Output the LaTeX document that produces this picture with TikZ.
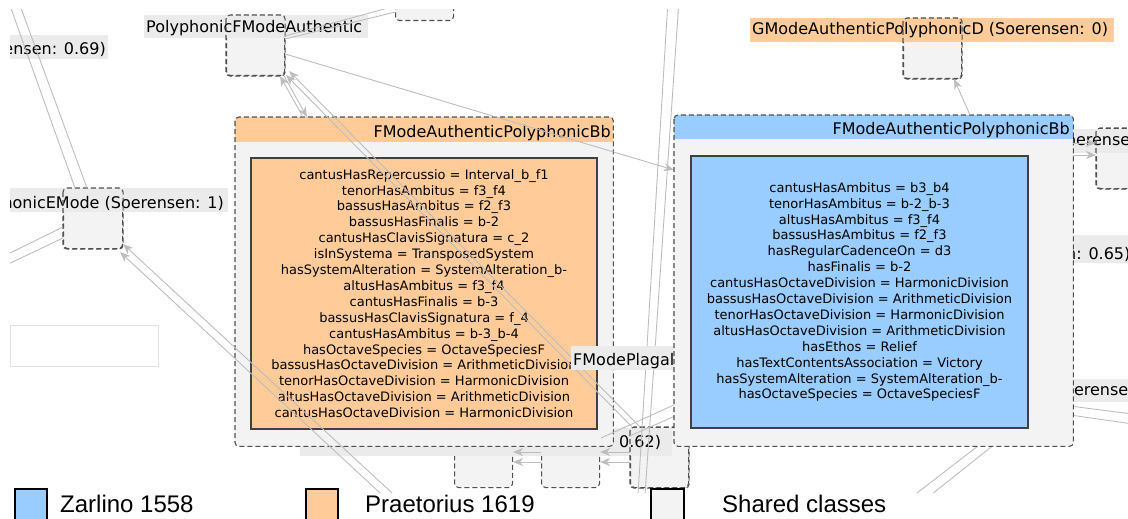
\documentclass[tikz,border=0pt]{standalone}
\usepackage{fontspec}
\setmainfont{DejaVu Sans}
\newfontfamily\legfont{Liberation Sans}
\usetikzlibrary{arrows.meta,calc}
\definecolor{porange}{HTML}{FFCC99}
\definecolor{zblue}{HTML}{99CCFF}
\definecolor{bodyg}{HTML}{F3F3F3}
\definecolor{lblg}{HTML}{EBEBEB}
\definecolor{dashc}{HTML}{505050}
\definecolor{edgec}{HTML}{BDBDBD}
\definecolor{innerc}{HTML}{404040}
\definecolor{rectc}{HTML}{E2E2E2}
\begin{document}
\begin{tikzpicture}[x=1pt,y=-1pt,
  cls/.style={draw=dashc, dash pattern=on 5pt off 3pt, line width=1.1pt, rounded corners=4pt, fill=bodyg, minimum width=58pt, minimum height=60pt, inner sep=0pt, anchor=north west},
  clsborder/.style={draw=dashc, dash pattern=on 5pt off 3pt, line width=1.1pt, rounded corners=4pt},
  lblbg/.style={fill=lblg, inner sep=0pt, anchor=north west},
  lbltxt/.style={inner sep=0pt, anchor=base west, font=\fontsize{16}{19}\selectfont},
  bigbox/.style={fill=bodyg, inner sep=0pt, anchor=north west},
  innerbox/.style={draw=innerc, line width=1.2pt, inner sep=0pt, align=center, font=\fontsize{13}{15.9}\selectfont},
  edge/.style={draw=edgec, line width=0.9pt},
  arr/.style={edge, -{Stealth[length=10pt,width=8pt,inset=3pt]}},
  legsq/.style={draw=black, line width=1.6pt, minimum width=32pt, minimum height=34pt, anchor=north west, inner sep=0pt},
  legtxt/.style={font=\legfont\fontsize{24}{28}\selectfont, anchor=base west, inner sep=0pt}
]
\useasboundingbox (0,0) rectangle (1128,519);
\clip (0,0) rectangle (1128,519);

\begin{scope}
\clip (10,10) rectangle (1128,492);
% ---------- small class nodes ----------
\node[cls] (b1) at (454,427) {};
\node[cls] (b2) at (541,427) {};
\node[cls] (b3) at (630,427) {};
\node[cls] (rnode) at (1096,128) {};
\node[cls] (topn) at (395,-40) {};
\node[cls] (gmd) at (903,18) {};
\node[cls] (pfa) at (226,15) {};
\node[cls, minimum width=59pt] (emode) at (63,188) {};
\node[draw=rectc, fill=white, line width=0.8pt, minimum width=148pt, minimum height=41pt, inner sep=0pt, anchor=north west] (emptyrect) at (10,325) {};

% ---------- labels ----------
\node[lblbg, minimum width=224pt, minimum height=23pt] (lpfabg) at (144,15) {};
\node[lbltxt] (lpfa) at (146,33) {PolyphonicFModeAuthentic};
\node[lblbg, minimum width=98pt, minimum height=24pt] (l069bg) at (10,35) {};
\node[lbltxt, anchor=base east] (l069) at (106,55) {ensen: 0.69)};
\node[lblbg, minimum width=218pt, minimum height=24pt] (lemodebg) at (10,188) {};
\node[lbltxt, anchor=base east] (lemode) at (224,208) {phonicEMode (Soerensen: 1)};
\node[lblbg, fill=porange, minimum width=364pt, minimum height=24pt] (lgmdbg) at (750,18) {};
\node[lbltxt] (lgmd) at (752,35) {GModeAuthenticPolyphonicD (Soerensen: 0)};
\node[lblbg, minimum width=372pt, minimum height=28pt] (l062bg) at (300,428) {};
\node[lbltxt] (l062) at (619,447) {0.62)};
\node[lblbg, minimum width=80pt, minimum height=24pt] (lrtopbg) at (1060,129) {};
\node[lbltxt] (lrtop) at (1066,146) {oerensen};
\node[lblbg, minimum width=80pt, minimum height=28pt] (l065bg) at (1060,235) {};
\node[lbltxt] (l065) at (1066,259) {n: 0.65)};
\node[lblbg, minimum width=80pt, minimum height=23pt] (lerensebg) at (1060,379) {};
\node[lbltxt] (lerense) at (1064,395) {oerensen};

% borders of nodes over their labels
\draw[clsborder] (pfa.north west) rectangle (pfa.south east);
\draw[clsborder] (emode.north west) rectangle (emode.south east);
\draw[clsborder] (gmd.north west) rectangle (gmd.south east);
\draw[clsborder] (rnode.north west) rectangle (rnode.south east);
\draw[clsborder] (b3.north west) rectangle (b3.south east);

% ---------- Praetorius box ----------
\node[bigbox, minimum width=378pt, minimum height=329pt] (pbox) at (235,117) {};
\begin{scope}
\clip[rounded corners=4pt] (pbox.north west) rectangle (pbox.south east);
\fill[porange] (pbox.north west) rectangle ($(pbox.north east)+(0,25)$);
\end{scope}
\draw[clsborder] (pbox.north west) rectangle (pbox.south east);
\node[lbltxt, anchor=base east] (ptitle) at (611,137) {FModeAuthenticPolyphonicBb};
\node[innerbox, fill=porange, minimum width=346pt, minimum height=271pt] (pinner) at (424,293.5) {%
cantusHasRepercussio = Interval\_b\_f1\\
tenorHasAmbitus = f3\_f4\\
bassusHasAmbitus = f2\_f3\\
bassusHasFinalis = b-2\\
cantusHasClavisSignatura = c\_2\\
isInSystema = TransposedSystem\\
hasSystemAlteration = SystemAlteration\_b-\\
altusHasAmbitus = f3\_f4\\
cantusHasFinalis = b-3\\
bassusHasClavisSignatura = f\_4\\
cantusHasAmbitus = b-3\_b-4\\
hasOctaveSpecies = OctaveSpeciesF\\
bassusHasOctaveDivision = ArithmeticDivision\\
tenorHasOctaveDivision = HarmonicDivision\\
altusHasOctaveDivision = ArithmeticDivision\\
cantusHasOctaveDivision = HarmonicDivision};

% ---------- edges ----------
\coordinate (e1s) at (8,0);
\coordinate (e2s) at (18,0);
\coordinate (e3s) at (0,258);
\coordinate (e4s) at (0,268);
\coordinate (e5s) at (405,505);
\coordinate (e6s) at (393,505);
\coordinate (v1s) at (668,0);
\coordinate (v1e) at (638,495);
\coordinate (v2s) at (679,0);
\coordinate (v2e) at (645,495);
\coordinate (f1s) at (720,384);
\coordinate (f2s) at (720,396);
\coordinate (g4s) at (1000,397);
\coordinate (g4e) at (1140,415);
\coordinate (g5s) at (1000,405);
\coordinate (g5e) at (1140,425);
\coordinate (g6s) at (1000,429);
\coordinate (g6e) at (895,510);
\coordinate (g7s) at (1010,432);
\coordinate (g7e) at (912,510);
\coordinate (zleft) at (674,170);

\draw[edge] (e1s) -- ($(emode.north west)+(12,0)$);
\draw[edge] (e2s) -- ($(emode.north west)+(24,0)$);
\draw[edge] (e3s) -- ($(emode.north west)+(0,39)$);
\draw[edge] (e4s) -- ($(emode.north west)+(0,50)$);
\draw[arr] (e5s) -- ($(emode.south east)+(0,-5)$);
\draw[arr] (e6s) -- ($(emode.south east)+(-3,3)$);
\draw[edge] ($(pfa.north east)+(0,21)$) -- ($(topn.south west)+(0,-15)$);
\draw[edge] ($(pfa.north east)+(0,24)$) -- ($(topn.south west)+(0,-9)$);
\draw[arr] ($(pfa.north east)+(0,39)$) -- (zleft);
\draw[arr] ($(pbox.north west)+(68,0)$) -- ($(pfa.south east)+(-5,0)$);
\draw[arr] ($(pfa.south east)+(-1,0)$) -- ($(pbox.north west)+(72,0)$);
\draw[arr] ($(b3.north west)+(2,0)$) -- ($(pfa.south east)+(1,-1)$);
\draw[arr] ($(b3.north west)+(10,0)$) -- ($(pfa.south east)+(4,-5)$);
\draw[arr] ($(b2.north west)+(0,25)$) -- ($(b1.north east)+(0,25)$);
\draw[arr] ($(b2.north west)+(0,35)$) -- ($(b1.north east)+(0,35)$);
\draw[arr] ($(b3.north west)+(0,25)$) -- ($(b2.north east)+(0,25)$);
\draw[arr] ($(b3.north west)+(0,35)$) -- ($(b2.north east)+(0,35)$);
\draw[edge] (f1s) -- ($(b2.north east)+(1,11)$);
\draw[edge] (f2s) -- ($(b3.north west)+(0,9)$);
\draw[edge] (v1s) -- (v1e);
\draw[edge] (v2s) -- (v2e);
\draw[edge] (g4s) -- (g4e);
\draw[edge] (g5s) -- (g5e);
\draw[edge] (g6s) -- (g6e);
\draw[edge] (g7s) -- (g7e);

% label over the Praetorius box
\node[lblbg, minimum width=120pt, minimum height=24pt] (lfmpbg) at (571,346) {};
\node[lbltxt] (lfmp) at (573,365) {FModePlagal};

% ---------- Zarlino box ----------
\node[bigbox, minimum width=399pt, minimum height=331pt] (zbox) at (674,115) {};
\begin{scope}
\clip[rounded corners=4pt] (zbox.north west) rectangle (zbox.south east);
\fill[zblue] (zbox.north west) rectangle ($(zbox.north east)+(0,24)$);
\end{scope}
\draw[clsborder] (zbox.north west) rectangle (zbox.south east);
\node[lbltxt, anchor=base east] (ztitle) at (1070,135) {FModeAuthenticPolyphonicBb};
\node[innerbox, fill=zblue, minimum width=337pt, minimum height=272pt] (zinner) at (859.5,292) {%
cantusHasAmbitus = b3\_b4\\
tenorHasAmbitus = b-2\_b-3\\
altusHasAmbitus = f3\_f4\\
bassusHasAmbitus = f2\_f3\\
hasRegularCadenceOn = d3\\
hasFinalis = b-2\\
cantusHasOctaveDivision = HarmonicDivision\\
bassusHasOctaveDivision = ArithmeticDivision\\
tenorHasOctaveDivision = HarmonicDivision\\
altusHasOctaveDivision = ArithmeticDivision\\
hasEthos = Relief\\
hasTextContentsAssociation = Victory\\
hasSystemAlteration = SystemAlteration\_b-\\
hasOctaveSpecies = OctaveSpeciesF};

\draw[arr] ($(zbox.north west)+(296,0)$) -- ($(gmd.south east)+(-8,0)$);
\draw[arr] ($(zbox.north east)+(0,28)$) -- ($(rnode.north west)+(0,15)$);
\draw[arr] ($(zbox.north east)+(0,40)$) -- ($(rnode.north west)+(0,27)$);
\end{scope}

% ---------- legend ----------
\node[legsq, fill=zblue] (legz) at (14,488) {};
\node[legtxt] (legztxt) at (60,512) {Zarlino 1558};
\node[legsq, fill=porange] (legp) at (305,488) {};
\node[legtxt] (legptxt) at (365,512) {Praetorius 1619};
\node[legsq, fill=bodyg, minimum width=33pt] (legs) at (650,488) {};
\node[legtxt] (legstxt) at (722,512) {Shared classes};
\end{tikzpicture}
\end{document}
